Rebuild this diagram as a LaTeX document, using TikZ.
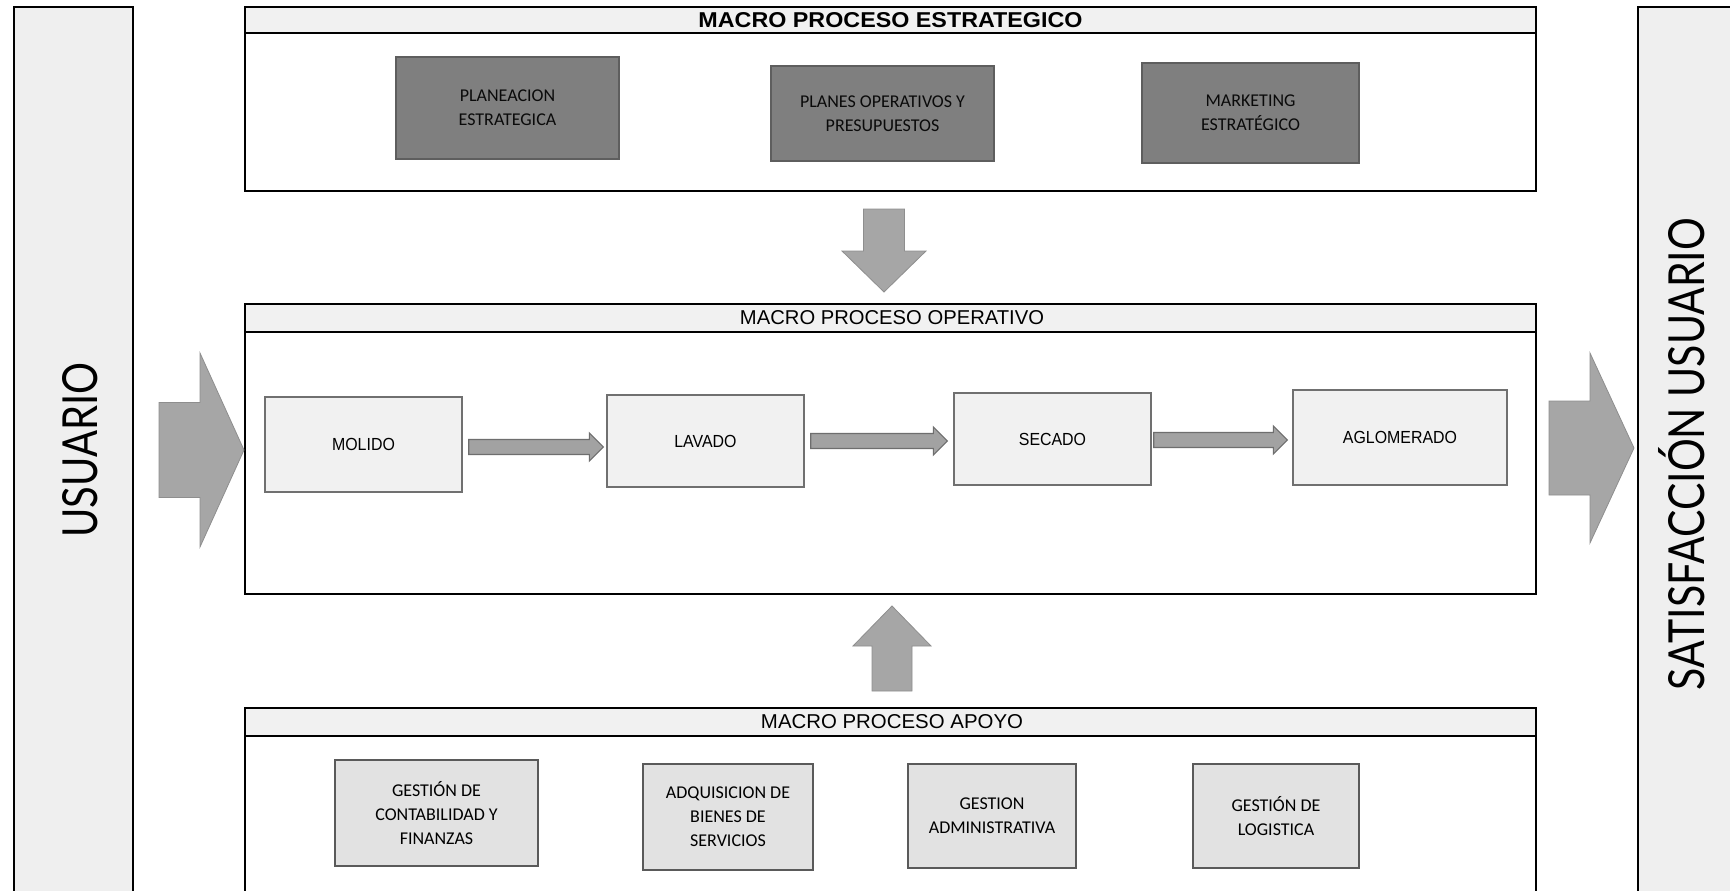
\documentclass[tikz,border=0pt]{standalone}
\usepackage{fontspec}
\usepackage{graphicx}
\usetikzlibrary{calc}

\newfontfamily\boxfont{Carlito}
\newfontfamily\opfont{Liberation Sans}
\newfontfamily\sidefont{Lato}

\definecolor{barfill}{HTML}{EFEFEF}
\definecolor{hdrfill}{HTML}{F1F1F1}
\definecolor{stratfill}{HTML}{7F7F7F}
\definecolor{stratline}{HTML}{5E5E5E}
\definecolor{stratText}{HTML}{0A0A0A}
\definecolor{opfill}{HTML}{F1F1F1}
\definecolor{opline}{HTML}{707070}
\definecolor{supfill}{HTML}{E2E2E2}
\definecolor{supline}{HTML}{5A5A5A}
\definecolor{bigfill}{HTML}{A6A6A6}
\definecolor{bigline}{HTML}{8E8E8E}
\definecolor{smallfill}{HTML}{A2A2A2}
\definecolor{smallline}{HTML}{6E6E6E}

\tikzset{
  sidebar/.style={draw=black, line width=2pt, fill=barfill, inner sep=0pt},
  panel/.style={draw=black, line width=2pt, fill=white, inner sep=0pt},
  header/.style={draw=black, line width=2pt, fill=hdrfill, inner sep=0pt},
  stratbox/.style={draw=stratline, line width=1.2pt, fill=stratfill, text=stratText,
    align=center, inner sep=0pt, font={\boxfont\fontsize{18pt}{24pt}\selectfont}},
  opbox/.style={draw=opline, line width=1.3pt, fill=opfill, align=center, inner sep=0pt,
    font={\opfont\fontsize{17.5pt}{20pt}\selectfont}},
  supbox/.style={draw=supline, line width=1.3pt, fill=supfill, align=center, inner sep=0pt,
    font={\boxfont\fontsize{18pt}{24pt}\selectfont}},
  sidetext/.style={inner sep=0pt, rotate=90, font={\sidefont\fontsize{48pt}{48pt}\selectfont}},
  hdrtext/.style={inner sep=0pt},
  bigarrow/.style={fill=bigfill, draw=bigline, line width=0.8pt},
  smallarrow/.style={fill=smallfill, draw=smallline, line width=1.2pt},
}

% horizontal block arrow: style, tail point, tip point, shaft half, head half, head length
\newcommand\blockh[6]{\path[#1] let \p1=(#2), \p2=(#3), \n1={sign(\x2-\x1)} in
  (\x1,\y1+#4) -- ({\x2-\n1*#6},\y1+#4) -- ({\x2-\n1*#6},\y1+#5) -- (\x2,\y1)
  -- ({\x2-\n1*#6},\y1-#5) -- ({\x2-\n1*#6},\y1-#4) -- (\x1,\y1-#4) -- cycle;}
% vertical block arrow: style, tail point, tip point, shaft half, head half, head length
\newcommand\blockv[6]{\path[#1] let \p1=(#2), \p2=(#3), \n1={sign(\y2-\y1)} in
  (\x1+#4,\y1) -- (\x1+#4,{\y2-\n1*#6}) -- (\x1+#5,{\y2-\n1*#6}) -- (\x1,\y2)
  -- (\x1-#5,{\y2-\n1*#6}) -- (\x1-#4,{\y2-\n1*#6}) -- (\x1-#4,\y1) -- cycle;}
\newcommand\oplabel[1]{\scalebox{0.91}[1]{#1}}

\begin{document}
\begin{tikzpicture}[x=1pt,y=-1pt]
  \useasboundingbox (0,0) rectangle (1730,891);
  \fill[white] (0,0) rectangle (1730,891);
  \clip (0,0) rectangle (1730,891);

  % side bars
  \node[sidebar, minimum width=119pt, minimum height=900pt] (usuario) at (73.5,457) {};
  \node[sidebar, minimum width=110pt, minimum height=900pt] (satisf) at (1693,457) {};
  \node[sidetext] (usuarioTxt) at (80,450) {\resizebox{175pt}{35pt}{USUARIO}};
  \node[sidetext] (satisfTxt) at (1687,454) {\resizebox{472pt}{36pt}{SATISFACCI\smash{Ó}N USUARIO}};

  % strategic macro process
  \node[panel, minimum width=1291pt, minimum height=184pt] (strat) at (890.5,99) {};
  \node[header, minimum width=1291pt, minimum height=26pt] (stratHdr) at (890.5,20) {};
  \node[hdrtext] at (stratHdr.center) {\resizebox{384pt}{15pt}{\opfont\bfseries MACRO PROCESO ESTRATEGICO}};
  \node[stratbox, minimum width=223pt, minimum height=102pt] (planeacion) at (507.5,108) {PLANEACION\\ESTRATEGICA};
  \node[stratbox, minimum width=223pt, minimum height=95pt] (planes) at (882.5,113.5) {PLANES OPERATIVOS Y\\PRESUPUESTOS};
  \node[stratbox, minimum width=217pt, minimum height=100pt] (marketing) at (1250.5,113) {MARKETING\\ESTRATÉGICO};

  % operative macro process
  \node[panel, minimum width=1291pt, minimum height=290pt] (operative) at (890.5,449) {};
  \node[header, minimum width=1291pt, minimum height=28pt] (opHdr) at (890.5,318) {};
  \node[hdrtext] at (892,318) {\resizebox{304pt}{14pt}{\opfont MACRO PROCESO OPERATIVO}};
  \node[opbox, minimum width=197pt, minimum height=95pt] (molido) at (363.5,444.5) {\oplabel{MOLIDO}};
  \node[opbox, minimum width=197pt, minimum height=92pt] (lavado) at (705.5,441) {\oplabel{LAVADO}};
  \node[opbox, minimum width=197pt, minimum height=92pt] (secado) at (1052.5,439) {\oplabel{SECADO}};
  \node[opbox, minimum width=214pt, minimum height=95pt] (aglomerado) at (1400,437.5) {\oplabel{AGLOMERADO}};

  % support macro process
  \node[panel, minimum width=1291pt, minimum height=200pt] (apoyo) at (890.5,808) {};
  \node[header, minimum width=1291pt, minimum height=28pt] (apoyoHdr) at (890.5,722) {};
  \node[hdrtext] at (892,722) {\resizebox{262pt}{14pt}{\opfont MACRO PROCESO APOYO}};
  \node[supbox, minimum width=203pt, minimum height=106pt] (contab) at (436.5,813) {GESTIÓN DE\\CONTABILIDAD Y\\FINANZAS};
  \node[supbox, minimum width=170pt, minimum height=106pt] (adquis) at (728,817) {ADQUISICION DE\\BIENES DE\\SERVICIOS};
  \node[supbox, minimum width=168pt, minimum height=104pt] (admin) at (992,816) {GESTION\\ADMINISTRATIVA};
  \node[supbox, minimum width=166pt, minimum height=104pt] (logist) at (1276,816) {GESTIÓN DE\\LOGISTICA};

  % flow inside the operative process
  \blockh{smallarrow}{$(molido.east)+(6,2.5)$}{$(lavado.west)+(-3,0)$}{7.5pt}{14pt}{14pt}
  \blockh{smallarrow}{$(lavado.east)+(6,0)$}{$(secado.west)+(-6,0)$}{7.5pt}{14pt}{14pt}
  \blockh{smallarrow}{$(secado.east)+(2,1)$}{$(aglomerado.west)+(-5,0)$}{7.5pt}{14pt}{14pt}

  % flows between the blocks
  \blockh{bigarrow}{$(usuario.east |- operative.center)+(25,1)$}{operative.west}{47.5pt}{97pt}{44pt}
  \blockh{bigarrow}{$(operative.east)+(12,-1)$}{$(satisf.west)+(-3,0)$}{47pt}{95pt}{44pt}
  \blockv{bigarrow}{$(strat.south)+(-6.5,17)$}{$(operative.north)+(0,-11)$}{20.5pt}{42pt}{41pt}
  \blockv{bigarrow}{$(apoyoHdr.north)+(1.5,-16)$}{$(operative.south)+(0,11)$}{20pt}{39pt}{40pt}
\end{tikzpicture}
\end{document}
